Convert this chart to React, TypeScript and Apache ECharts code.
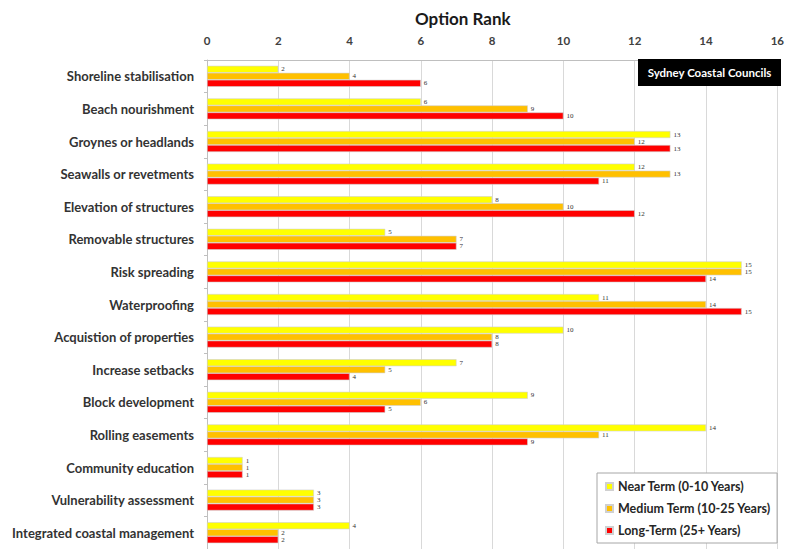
import React, { useEffect, useRef } from "react";
import * as echarts from "echarts";

const categories = [
  "Shoreline stabilisation",
  "Beach nourishment",
  "Groynes or headlands",
  "Seawalls or revetments",
  "Elevation of structures",
  "Removable structures",
  "Risk spreading",
  "Waterproofing",
  "Acquistion of properties",
  "Increase setbacks",
  "Block development",
  "Rolling easements",
  "Community education",
  "Vulnerability assessment",
  "Integrated coastal management",
];
const nearTerm = [2, 6, 13, 12, 8, 5, 15, 11, 10, 7, 9, 14, 1, 3, 4];
const mediumTerm = [4, 9, 12, 13, 10, 7, 15, 14, 8, 5, 6, 11, 1, 3, 2];
const longTerm = [6, 10, 13, 11, 12, 7, 14, 15, 8, 4, 5, 9, 1, 3, 2];
const seriesNames = ["Near Term (0-10 Years)", "Medium Term (10-25 Years)", "Long-Term (25+ Years)"];
const seriesColors = ["#FFFF00", "#FFC000", "#FF0000"];
const xTicks = { min: 0, max: 16, interval: 2 };

const FONT = "Lato";

export default function App() {
  const ref = useRef<HTMLDivElement>(null);
  useEffect(() => {
    if (!ref.current) return;
    const chart = echarts.init(ref.current, undefined, { renderer: "svg" });
    const values = [nearTerm, mediumTerm, longTerm];
    chart.setOption({
      animation: false,
      backgroundColor: "#ffffff",
      textStyle: { fontFamily: FONT },
      title: {
        text: "Option Rank",
        left: 410,
        top: 5,
        textStyle: { fontFamily: FONT, fontSize: 17, fontWeight: "bold", color: "#1a1a1a" },
      },
      legend: {
        orient: "vertical",
        left: 597,
        top: 473,
        itemWidth: 7,
        itemHeight: 7,
        itemGap: 9,
        icon: "rect",
        backgroundColor: "#ffffff",
        borderColor: "#a6a6a6",
        borderWidth: 1,
        padding: [7, 6, 6, 8],
        textStyle: { fontFamily: FONT, fontSize: 12.5, color: "#262626", fontWeight: "bold" },
        data: seriesNames,
      },
      grid: { left: 207, right: 6, top: 60, height: 491, containLabel: false },
      xAxis: {
        type: "value",
        position: "top",
        min: xTicks.min,
        max: xTicks.max,
        interval: xTicks.interval,
        axisLine: { show: true, lineStyle: { color: "#bfbfbf" } },
        axisTick: { show: false },
        splitLine: { show: true, lineStyle: { color: "#d9d9d9" } },
        axisLabel: { fontFamily: FONT, fontSize: 11.5, fontWeight: "bold", color: "#404040", margin: 14 },
      },
      yAxis: {
        type: "category",
        inverse: true,
        data: categories,
        axisLine: { show: true, lineStyle: { color: "#bfbfbf" } },
        axisTick: { show: true, length: 3, lineStyle: { color: "#bfbfbf" } },
        axisLabel: { fontFamily: FONT, fontSize: 13, fontWeight: "bold", color: "#333333", margin: 13 },
      },
      series: seriesNames.map((name, i) => ({
        name,
        type: "bar",
        data: values[i],
        barWidth: 7,
        barGap: "0%",
        itemStyle: { color: seriesColors[i], borderColor: "#d0d0d0", borderWidth: 0.6 },
        label: {
          show: true,
          position: "right",
          distance: 3,
          fontSize: 7,
          fontFamily: "Liberation Serif",
          color: "#333",
        },
      })),
      graphic: [
        {
          type: "rect",
          shape: { x: 638, y: 59, width: 143, height: 27 },
          style: { fill: "#000000" },
          z: 100,
        },
        {
          type: "text",
          x: 709.5,
          y: 72.5,
          style: {
            text: "Sydney Coastal Councils",
            fill: "#ffffff",
            font: `bold 11.5px ${FONT}`,
            align: "center",
            verticalAlign: "middle",
          },
          z: 101,
        },
      ],
    });
    return () => chart.dispose();
  }, []);
  return <div ref={ref} style={{ width: 787, height: 549, position: "absolute", left: 0, top: 0 }} />;
}
